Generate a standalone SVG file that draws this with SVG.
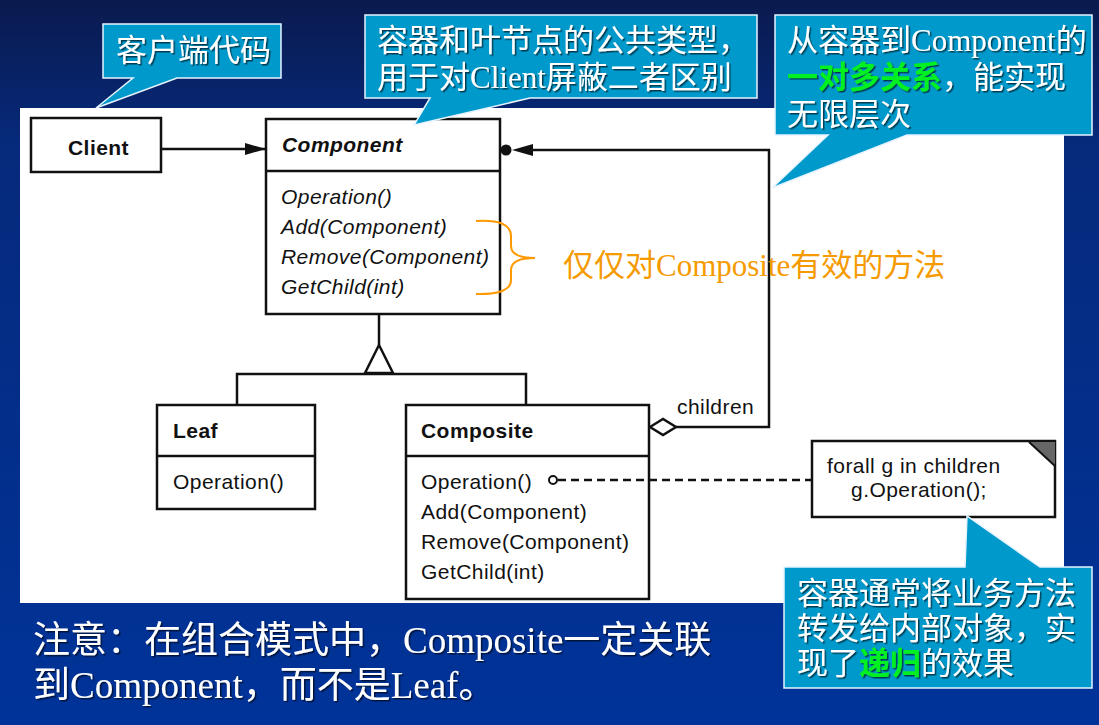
<svg xmlns="http://www.w3.org/2000/svg" width="1099" height="725" viewBox="0 0 1099 725">
  <defs>
    <linearGradient id="bg" x1="0" y1="0" x2="0" y2="1">
      <stop offset="0" stop-color="#0a1a4e"/>
      <stop offset="0.2" stop-color="#062a7c"/>
      <stop offset="1" stop-color="#003399"/>
    </linearGradient>
    <filter id="shadow" x="-5%" y="-20%" width="110%" height="140%">
      <feDropShadow dx="1.5" dy="1.5" stdDeviation="0.6" flood-color="#000" flood-opacity="0.6"/>
    </filter>
    <marker id="filledArrow" markerWidth="22" markerHeight="14" refX="21" refY="7" orient="auto" markerUnits="userSpaceOnUse">
      <path d="M0 1 L21 7 L0 13 Z" fill="#111"/>
    </marker>
    <style>
      .box { fill: #fff; stroke: #111; stroke-width: 2.5; }
      .line { fill: none; stroke: #111; stroke-width: 2.5; }
      .uml { font-family: "Liberation Sans", Arial, sans-serif; font-size: 21px; letter-spacing: 0.45px; fill: #111; }
      .bold { font-weight: bold; }
      .ital { font-style: italic; }
      .callout { fill: #0099cc; stroke: #e6f4ff; stroke-width: 1.5; }
      .ctext { font-family: "Liberation Serif", "Noto Sans CJK SC", sans-serif; font-size: 31px; fill: #fff; filter: url(#shadow); }
      .green { fill: #00f020; font-weight: bold; }
      .note { font-family: "Liberation Serif", "Noto Sans CJK SC", sans-serif; font-size: 37px; fill: #fff; filter: url(#shadow); }
      .orange { font-family: "Liberation Serif", "Noto Sans CJK SC", sans-serif; font-size: 31px; fill: #f59a00; }
    </style>
  </defs>

  <!-- slide background and the diagram panel -->
  <rect x="0" y="0" width="1099" height="725" fill="url(#bg)"/>
  <rect x="20" y="108" width="1044" height="495" fill="#fff"/>

  <g id="client">
    <rect class="box" x="31" y="118" width="130" height="54"/>
    <text class="uml bold" x="68" y="155">Client</text>
  </g>

  <g id="component">
    <rect class="box" x="266" y="119" width="234" height="195"/>
    <line class="line" x1="266" y1="171" x2="500" y2="171"/>
    <text class="uml bold ital" x="282" y="152">Component</text>
    <text class="uml ital" x="281" y="204">Operation()</text>
    <text class="uml ital" x="281" y="234">Add(Component)</text>
    <text class="uml ital" x="281" y="264">Remove(Component)</text>
    <text class="uml ital" x="281" y="294">GetChild(int)</text>
  </g>

  <g id="leaf">
    <rect class="box" x="157" y="405" width="158" height="104"/>
    <line class="line" x1="157" y1="456" x2="315" y2="456"/>
    <text class="uml bold" x="173" y="438">Leaf</text>
    <text class="uml" x="173" y="489">Operation()</text>
  </g>

  <g id="composite">
    <rect class="box" x="406" y="405" width="243" height="194"/>
    <line class="line" x1="406" y1="456" x2="649" y2="456"/>
    <text class="uml bold" x="421" y="438">Composite</text>
    <text class="uml" x="421" y="489">Operation()</text>
    <text class="uml" x="421" y="519">Add(Component)</text>
    <text class="uml" x="421" y="549">Remove(Component)</text>
    <text class="uml" x="421" y="579">GetChild(int)</text>
  </g>

  <g id="operation-note">
    <rect class="box" x="812" y="441" width="243" height="76"/>
    <path d="M1029 442 L1055 442 L1055 466 Z" fill="#666"/>
    <line x1="1029" y1="442" x2="1055" y2="466" stroke="#111" stroke-width="2"/>
    <text class="uml" x="827" y="473">forall g in children</text>
    <text class="uml" x="851" y="497">g.Operation();</text>
  </g>

  <!-- connectors -->
  <g id="connectors">
    <!-- Client uses Component -->
    <line class="line" x1="161" y1="149" x2="266" y2="149" marker-end="url(#filledArrow)"/>
    <!-- inheritance tree -->
    <line class="line" x1="379" y1="314" x2="379" y2="345"/>
    <path d="M379 345 L365 373 L393 373 Z" fill="#fff" stroke="#111" stroke-width="2.5" stroke-linejoin="round"/>
    <polyline class="line" points="237,405 237,374 526,374 526,405"/>
    <!-- children aggregation back to Component -->
    <polyline class="line" points="676,427 769,427 769,150 532,150"/>
    <path d="M512 150 L533 144 L533 156 Z" fill="#111"/>
    <circle cx="506" cy="150" r="5.5" fill="#111"/>
    <path d="M650 427 L663 419 L676 427 L663 435 Z" fill="#fff" stroke="#111" stroke-width="2.5"/>
    <text class="uml" x="677" y="414">children</text>
    <!-- Operation() implementation note link -->
    <line x1="558" y1="480" x2="812" y2="480" stroke="#111" stroke-width="2.5" stroke-dasharray="8 5"/>
    <circle cx="553" cy="480" r="4" fill="#fff" stroke="#111" stroke-width="2"/>
    <!-- brace grouping the child-management methods -->
    <path d="M476 221 Q511 219 511 236 L511 246 Q511 258 535 258 Q511 258 511 270 L511 280 Q511 295 476 294" fill="none" stroke="#ff9900" stroke-width="2"/>
  </g>

  <g id="brace-label">
    <text class="orange" x="563" y="276">仅仅对Composite有效的方法</text>
  </g>

  <g id="callout-client">
    <path class="callout" d="M103 24 H281 V78 H177 L96 108 L133 78 H103 Z"/>
    <text class="ctext" x="116" y="61">客户端代码</text>
  </g>

  <g id="callout-component">
    <path class="callout" d="M365 15 H757 V98 H530 L414 125 L430 98 H365 Z"/>
    <text class="ctext" x="377" y="51">容器和叶节点的公共类型，</text>
    <text class="ctext" x="377" y="88">用于对Client屏蔽二者区别</text>
  </g>

  <g id="callout-children">
    <path class="callout" d="M775 15 H1092 V135 H907 L772 188 L828 135 H775 Z"/>
    <text class="ctext" x="787" y="51">从容器到Component的</text>
    <text class="ctext" x="787" y="88"><tspan class="green">一对多关系</tspan>，能实现</text>
    <text class="ctext" x="787" y="125">无限层次</text>
  </g>

  <g id="callout-recursion">
    <path class="callout" d="M784 567 H965 L967 516 L1040 567 H1092 V688 H784 Z"/>
    <text class="ctext" x="797" y="604">容器通常将业务方法</text>
    <text class="ctext" x="797" y="639">转发给内部对象，实</text>
    <text class="ctext" x="797" y="674">现了<tspan class="green">递归</tspan>的效果</text>
  </g>

  <g id="footnote">
    <text class="note" x="33" y="653">注意：在组合模式中，Composite一定关联</text>
    <text class="note" x="33" y="698">到Component，而不是Leaf。</text>
  </g>
</svg>
